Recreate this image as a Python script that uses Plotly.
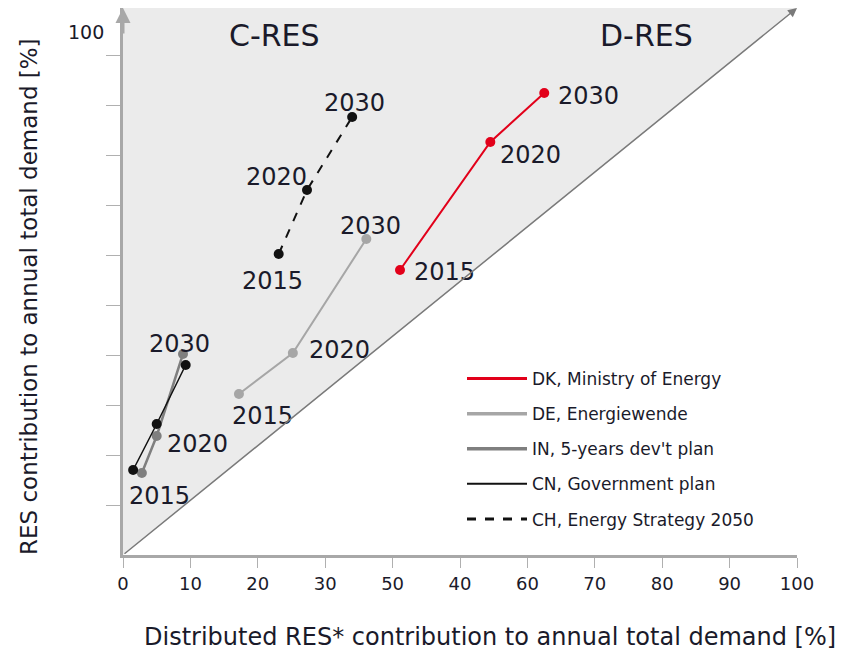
import plotly.graph_objects as go

# ---------------- data ----------------
years = ["2015", "2020", "2030"]
series_names = ["DK, Ministry of Energy", "DE, Energiewende", "IN, 5-years dev't plan",
                "CN, Government plan", "CH, Energy Strategy 2050"]
dk_x = [41.1, 54.5, 62.5]
dk_y = [57.0, 82.6, 92.4]
de_x = [17.2, 25.2, 36.1]
de_y = [32.2, 40.4, 63.2]
in_x = [2.8, 5.0, 8.9]
in_y = [16.4, 23.8, 40.2]
cn_x = [1.5, 5.0, 9.3]
cn_y = [17.0, 26.2, 38.0]
ch_x = [23.1, 27.3, 34.0]
ch_y = [60.2, 73.0, 87.6]
x_tickvals = [0, 10, 20, 30, 40, 50, 60, 70, 80, 90, 100]
x_ticktext = ["0", "10", "20", "30", "50", "40", "60", "70", "80", "90", "100"]
y_tickvals = [10, 20, 30, 40, 50, 60, 70, 80, 90, 100]

FONT = "DejaVu Sans"
TXT = "#1a1a2a"
RED = "#e2001a"
LGRAY = "#a6a6a6"
MGRAY = "#7f7f7f"
BLACK = "#111111"
YTOP = 109.4

W, H = 846, 655
OFF = 8  # page body margin
L, R, T, B = 115, 57, 0, 108


def px2paper(wx, wy):
    fx, fy = wx - OFF, wy - OFF
    return (fx - L) / (W - L - R), (H - B - fy) / (H - T - B)


fig = go.Figure()

# grey C-RES region above the diagonal
fig.add_trace(go.Scatter(x=[0, 0, 100, 0], y=[0, YTOP, YTOP, 0], fill="toself",
                         fillcolor="#ebebeb", line=dict(width=0), mode="lines",
                         hoverinfo="skip", showlegend=False))

specs = [
    (dk_x, dk_y, RED, 2, "solid", 3),
    (de_x, de_y, LGRAY, 2, "solid", 3.5),
    (in_x, in_y, MGRAY, 2.5, "solid", 3.5),
    (cn_x, cn_y, BLACK, 1.5, "solid", 2),
    (ch_x, ch_y, BLACK, 2, "dash", 3),
]
for (xs, ys, col, w, dash, lw), name in zip(specs, series_names):
    fig.add_trace(go.Scatter(x=xs, y=ys, mode="lines+markers", name=name,
                             line=dict(color=col, width=w, dash=dash),
                             marker=dict(color=col, size=10), showlegend=False))
for (xs, ys, col, w, dash, lw), name in zip(specs, series_names):
    fig.add_trace(go.Scatter(x=[None], y=[None], mode="lines", name=name,
                             legendgroup=name,
                             line=dict(color=col, width=lw, dash=dash)))

# year labels (xanchor, xshift, yshift)
label_offsets = {
    "dk": [("left", 12, -2), ("left", 8, -13), ("left", 12, -3)],
    "de": [("center", 24, -22), ("left", 14, 3), ("center", 4, 13)],
    "in": [("center", 18, -23), ("left", 8, -8), ("center", -3, 10)],
    "ch": [("center", -6, -27), ("right", 2, 13), ("center", 2, 14)],
}
series_xy = {"dk": (dk_x, dk_y), "de": (de_x, de_y), "in": (in_x, in_y), "ch": (ch_x, ch_y)}
for key, offs in label_offsets.items():
    xs, ys = series_xy[key]
    for yr, xv, yv, (xa, xs_, ys_) in zip(years, xs, ys, offs):
        fig.add_annotation(x=xv, y=yv, text=yr, showarrow=False, xanchor=xa,
                           yanchor="middle", xshift=xs_, yshift=ys_,
                           font=dict(family=FONT, size=24, color=TXT))

# diagonal with arrow
fig.add_annotation(x=100, y=YTOP, ax=0, ay=0, axref="x", ayref="y", xref="x", yref="y",
                   showarrow=True, arrowhead=2, arrowsize=1.2, arrowwidth=1.5,
                   arrowcolor="#7a7a7a", text="", standoff=0)
# y axis arrow
fig.add_annotation(x=0, y=YTOP, ax=0, ay=104, axref="x", ayref="y", xref="x", yref="y",
                   showarrow=True, arrowhead=2, arrowsize=1.0, arrowwidth=3,
                   arrowcolor="#a8a8a8", text="", standoff=0)


def paper_text(wx, wy, text, size, family=FONT, angle=0):
    xp, yp = px2paper(wx, wy)
    fig.add_annotation(x=xp, y=yp, xref="paper", yref="paper", text=text, showarrow=False,
                       xanchor="center", yanchor="middle", textangle=angle,
                       font=dict(family=family, size=size, color=TXT))


paper_text(274, 35, "C-RES", 30)
paper_text(646, 35, "D-RES", 30)
paper_text(86, 32, "100", 19)
paper_text(490, 637, "Distributed RES* contribution to annual total demand [%]", 24)
paper_text(29, 297, "RES contribution to annual total demand [%]", 23, FONT, -90)

lx, ly = px2paper(462, 361)
fig.update_layout(
    width=W, height=H, margin=dict(l=L, r=R, t=T, b=B),
    plot_bgcolor="white", paper_bgcolor="white",
    font=dict(family=FONT, color=TXT),
    legend=dict(x=lx, y=ly, xanchor="left", yanchor="top", bgcolor="rgba(0,0,0,0)",
                font=dict(family=FONT, size=17, color=TXT), tracegroupgap=10,
                itemwidth=60),
    xaxis=dict(range=[0, 100], tickvals=x_tickvals, ticktext=x_ticktext, showgrid=False,
               zeroline=False, showline=True, linecolor="#a8a8a8", linewidth=3,
               ticks="outside", ticklen=10, tickcolor="#b0b0b0", tickwidth=1,
               tickfont=dict(family=FONT, size=18, color=TXT)),
    yaxis=dict(range=[0, YTOP], tickvals=y_tickvals, showticklabels=False, showgrid=False,
               zeroline=False, showline=True, linecolor="#a8a8a8", linewidth=3,
               ticks="outside", ticklen=14, tickcolor="#b0b0b0", tickwidth=1),
)

fig.write_html("out.html")
